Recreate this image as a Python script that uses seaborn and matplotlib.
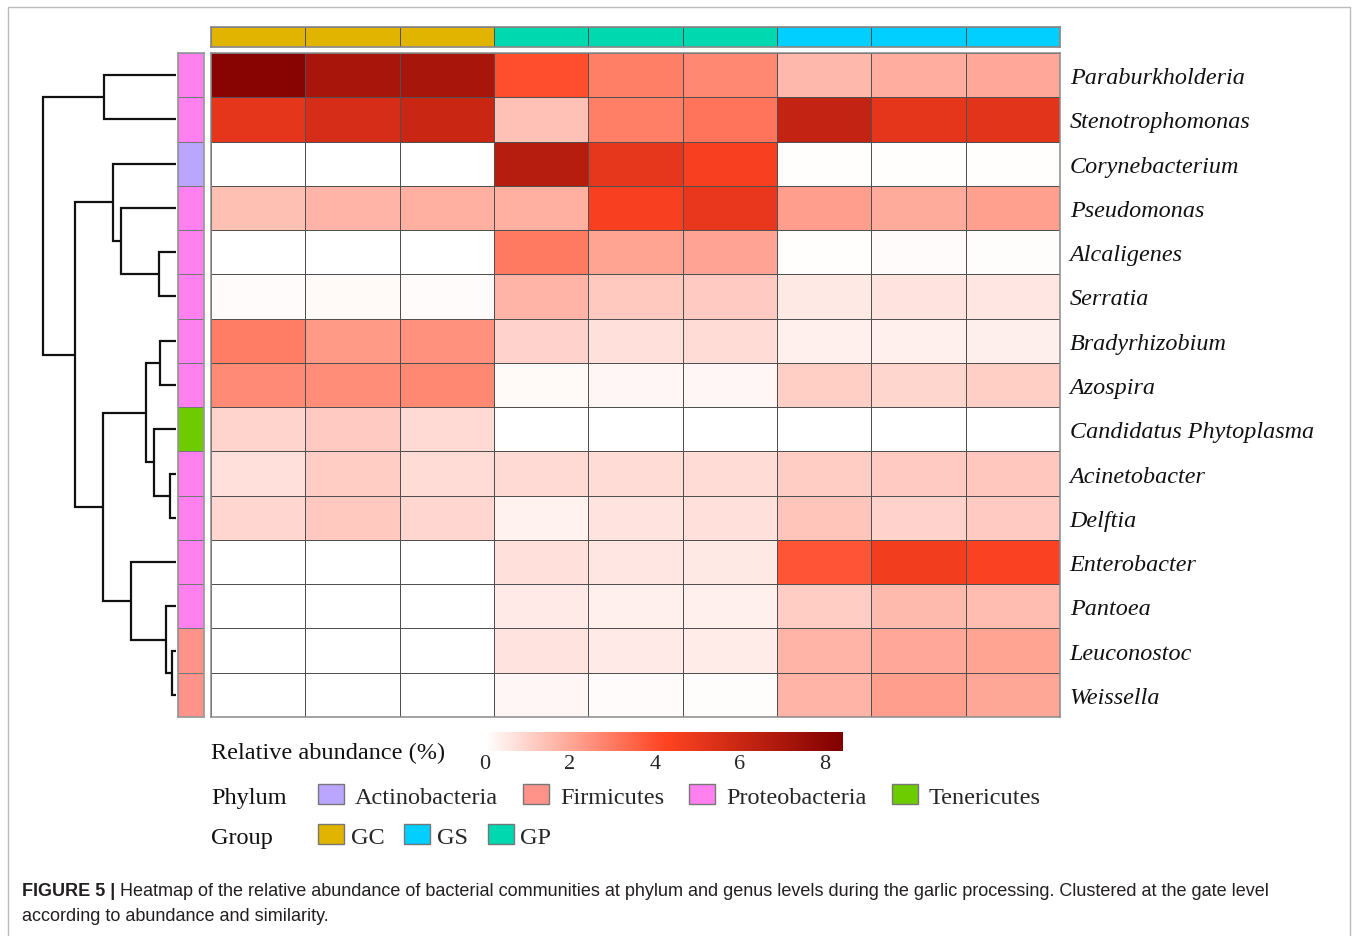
import numpy as np
import pandas as pd
import matplotlib
matplotlib.use("Agg")
import matplotlib.pyplot as plt
import seaborn as sns
from matplotlib.colors import LinearSegmentedColormap, ListedColormap
from matplotlib.patches import Patch, Rectangle

# ---------------- data ----------------
genera = ["Paraburkholderia", "Stenotrophomonas", "Corynebacterium", "Pseudomonas",
          "Alcaligenes", "Serratia", "Bradyrhizobium", "Azospira",
          "Candidatus Phytoplasma", "Acinetobacter", "Delftia", "Enterobacter",
          "Pantoea", "Leuconostoc", "Weissella"]

phylum = ["Proteobacteria", "Proteobacteria", "Actinobacteria", "Proteobacteria",
          "Proteobacteria", "Proteobacteria", "Proteobacteria", "Proteobacteria",
          "Tenericutes", "Proteobacteria", "Proteobacteria", "Proteobacteria",
          "Proteobacteria", "Firmicutes", "Firmicutes"]

samples = ["GC1", "GC2", "GC3", "GP1", "GP2", "GP3", "GS1", "GS2", "GS3"]
sample_group = ["GC", "GC", "GC", "GP", "GP", "GP", "GS", "GS", "GS"]

# relative abundance (%) per genus, three replicates per group
gc_values = [[8.15, 7.10, 7.10], [5.10, 5.60, 6.00], [0.00, 0.00, 0.00],
             [1.44, 1.70, 1.78], [0.00, 0.00, 0.00], [0.10, 0.15, 0.10],
             [2.95, 2.30, 2.50], [2.63, 2.60, 2.70], [0.96, 1.20, 0.85],
             [0.70, 1.15, 0.80], [0.90, 1.24, 0.92], [0.00, 0.00, 0.00],
             [0.00, 0.00, 0.00], [0.00, 0.00, 0.00], [0.00, 0.00, 0.00]]
gp_values = [[4.00, 2.90, 2.67], [1.40, 2.90, 3.15], [6.65, 5.05, 4.45],
             [1.80, 4.45, 5.00], [3.00, 2.10, 2.05], [1.70, 1.24, 1.20],
             [1.00, 0.70, 0.80], [0.15, 0.20, 0.22], [0.00, 0.00, 0.00],
             [0.85, 0.80, 0.80], [0.30, 0.65, 0.72], [0.70, 0.57, 0.52],
             [0.47, 0.33, 0.33], [0.65, 0.47, 0.43], [0.20, 0.13, 0.07]]
gs_values = [[1.60, 1.86, 1.95], [6.25, 5.10, 5.20], [0.05, 0.05, 0.05],
             [2.20, 1.90, 2.15], [0.05, 0.10, 0.08], [0.52, 0.65, 0.57],
             [0.33, 0.35, 0.37], [1.10, 0.93, 1.10], [0.03, 0.03, 0.03],
             [1.15, 1.20, 1.27], [1.32, 1.00, 1.20], [3.82, 4.63, 4.40],
             [1.15, 1.55, 1.50], [1.70, 1.95, 2.10], [1.70, 2.20, 2.00]]

# row clustering: (left, right, height); ids >= 15 refer to earlier merges
row_merges = [(0, 1, 7.2), (4, 5, 1.7), (3, 16, 5.5), (2, 17, 6.3),
              (6, 7, 1.6), (9, 10, 0.6), (8, 20, 2.2), (19, 21, 3.0),
              (13, 14, 0.4), (12, 23, 1.0), (11, 24, 4.5), (22, 25, 7.3),
              (18, 26, 10.1), (15, 27, 13.3)]

phylum_names = ["Actinobacteria", "Firmicutes", "Proteobacteria", "Tenericutes"]
phylum_colors = ["#BBA6FF", "#FF938A", "#FF80EE", "#6CCC00"]
group_names = ["GC", "GS", "GP"]
group_colors = ["#E0B400", "#00CFFF", "#00D9B0"]

# ---------------- style ----------------
sns.set_theme(style="white")
plt.rcParams["font.family"] = ["Liberation Serif", "DejaVu Serif"]
serif = ["Liberation Serif", "DejaVu Serif"]
sans = ["Liberation Sans", "DejaVu Sans"]

W, H = 1358, 937
fig = plt.figure(figsize=(W / 100, H / 100), dpi=100)


def px_axes(x0, y0, x1, y1):
    return fig.add_axes([x0 / W, 1 - y1 / H, (x1 - x0) / W, (y1 - y0) / H])


abund = pd.DataFrame(np.hstack([gc_values, gp_values, gs_values]),
                     index=genera, columns=samples)

cmap = LinearSegmentedColormap.from_list(
    "abund", [(0.0, "#FFFFFF"), (0.5, "#FF4422"), (1.0, "#800000")])
vmax = 8.43
grid_col = "#505050"

# main heatmap
ax_hm = px_axes(211, 54, 1060, 718)
cax = px_axes(485, 733, 843, 752)
sns.heatmap(abund, ax=ax_hm, cmap=cmap, vmin=0, vmax=vmax,
            linewidths=0.6, linecolor=grid_col, cbar=True, cbar_ax=cax,
            cbar_kws=dict(orientation="horizontal", ticks=[0, 2, 4, 6, 8]),
            xticklabels=False, yticklabels=True)
ax_hm.yaxis.tick_right()
ax_hm.set_yticklabels(genera, rotation=0, fontsize=17.4, style="italic",
                      family=serif, color="#111111")
ax_hm.tick_params(axis="y", length=0, pad=7)
ax_hm.set_xlabel("")
ax_hm.set_ylabel("")
for s in ax_hm.spines.values():
    s.set_visible(True)
    s.set_color("#8a8a8a")
    s.set_linewidth(1.1)

# colour key
cb = ax_hm.collections[0].colorbar
cb.outline.set_visible(False)
cax.tick_params(length=0, labelsize=16, pad=2)
for t in cax.get_xticklabels():
    t.set_family(serif)

# top annotation: group of each sample
grp_codes = pd.DataFrame([[group_names.index(g) for g in sample_group]],
                         columns=samples)
ax_grp = px_axes(211, 28, 1060, 48)
sns.heatmap(grp_codes, ax=ax_grp, cmap=ListedColormap(group_colors),
            vmin=-0.5, vmax=2.5, cbar=False, linewidths=0.6,
            linecolor=grid_col, xticklabels=False, yticklabels=False)
for s in ax_grp.spines.values():
    s.set_visible(True)
    s.set_color("#8a8a8a")

# left annotation: phylum of each genus
phy_codes = pd.DataFrame([phylum_names.index(p) for p in phylum], index=genera)
ax_phy = px_axes(178, 54, 204, 718)
sns.heatmap(phy_codes, ax=ax_phy, cmap=ListedColormap(phylum_colors),
            vmin=-0.5, vmax=3.5, cbar=False, linewidths=0.6,
            linecolor="#777777", xticklabels=False, yticklabels=False)
for s in ax_phy.spines.values():
    s.set_visible(True)
    s.set_color("#999999")

# row dendrogram
ax_den = px_axes(43, 54, 176, 718)
n = len(genera)
pos = {i: i + 0.5 for i in range(n)}
hgt = {i: 0.0 for i in range(n)}
for k, (a, b, h) in enumerate(row_merges):
    ya, yb = pos[a], pos[b]
    ax_den.plot([hgt[a], h, h, hgt[b]], [ya, ya, yb, yb],
                color="#111111", lw=1.6, solid_joinstyle="miter",
                solid_capstyle="butt", clip_on=False)
    pos[n + k] = (ya + yb) / 2
    hgt[n + k] = h
ax_den.set_xlim(row_merges[-1][2], 0)
ax_den.set_ylim(n, 0)
ax_den.axis("off")

# legend rows
lab_kw = dict(fontsize=17.5, family=serif, color="#111111", va="center")
fig.text(211 / W, 1 - 753 / H, "Relative abundance (%)", **lab_kw)
fig.text(211 / W, 1 - 799 / H, "Phylum", **lab_kw)
fig.text(211 / W, 1 - 839 / H, "Group", **lab_kw)

leg_base = dict(frameon=False, loc="center left", borderpad=0,
                borderaxespad=0, handlelength=1.07, handleheight=0.9,
                prop=dict(family=serif, size=17.5))
phy_handles = [Patch(facecolor=c, edgecolor="#777777", label=l)
               for l, c in zip(phylum_names, phylum_colors)]
fig.legend(handles=phy_handles, bbox_to_anchor=(318 / W, 1 - 797 / H),
           ncol=4, handletextpad=0.45, columnspacing=1.03, **leg_base)
grp_handles = [Patch(facecolor=c, edgecolor="#777777", label=l)
               for l, c in zip(group_names, group_colors)]
fig.legend(handles=grp_handles, bbox_to_anchor=(318 / W, 1 - 837 / H),
           ncol=3, handletextpad=0.27, columnspacing=0.82, **leg_base)

# frame and caption
fig.patches.append(Rectangle((8 / W, -0.01), (1350 - 8) / W, 1 - 8 / H + 0.01,
                             transform=fig.transFigure, fill=False,
                             edgecolor="#bbbbbb", lw=1.0))
cap_kw = dict(fontsize=12.95, family=sans, color="#231f20", va="center")
t_bold = fig.text(22 / W, 1 - 892 / H, "FIGURE 5 |", weight="bold", **cap_kw)
fig.canvas.draw()
bb = t_bold.get_window_extent(fig.canvas.get_renderer())
fig.text((bb.x1 + 5) / W, 1 - 892 / H,
         "Heatmap of the relative abundance of bacterial communities at phylum "
         "and genus levels during the garlic processing. Clustered at the gate level",
         **cap_kw)
fig.text(22 / W, 1 - 917 / H, "according to abundance and similarity.", **cap_kw)

fig.savefig("out.png", dpi=100, facecolor="white")
